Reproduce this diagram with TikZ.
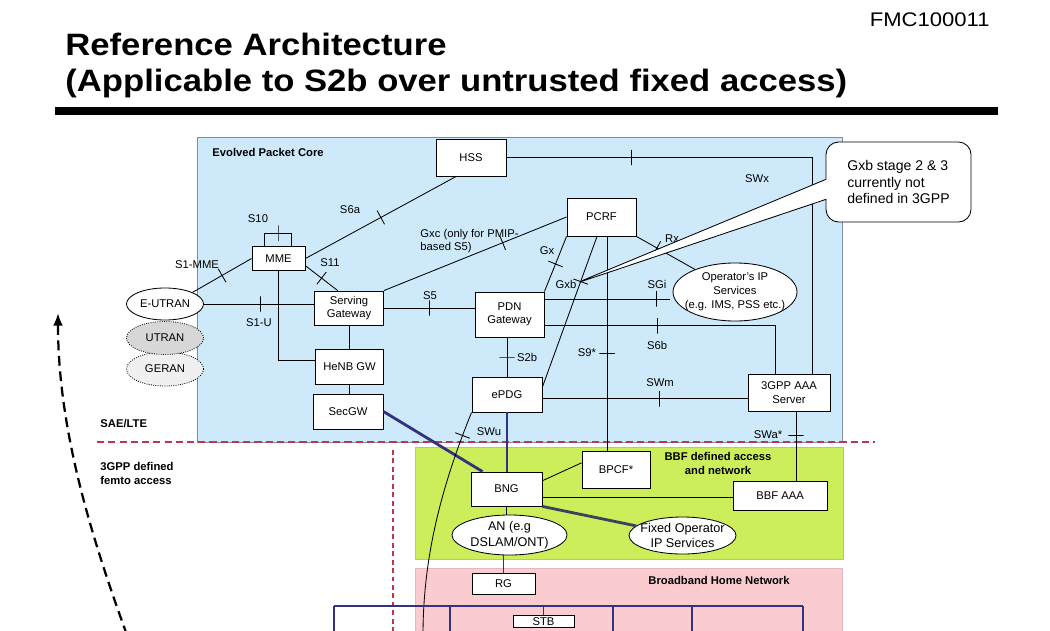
\documentclass[tikz,border=0pt]{standalone}
\usepackage{fontspec}
\setmainfont{Liberation Sans}
\newfontfamily\ttlfont[FakeStretch=1.12]{Liberation Sans}
\usetikzlibrary{shapes.geometric,shapes.callouts,arrows.meta}
\definecolor{epcblue}{RGB}{205,233,250}
\definecolor{epcedge}{RGB}{125,140,160}
\definecolor{bbfgreen}{RGB}{204,238,90}
\definecolor{bbfedge}{RGB}{175,205,110}
\definecolor{homepink}{RGB}{250,204,208}
\definecolor{homeedge}{RGB}{225,185,190}
\definecolor{lnavy}{RGB}{50,50,128}
\definecolor{fixline}{RGB}{60,65,95}
\definecolor{dashred}{RGB}{185,55,80}
\definecolor{utrangray}{RGB}{215,215,215}
\definecolor{gerangray}{RGB}{240,240,240}
\tikzset{
    BX/.style ={rectangle, draw, fill=white, inner sep=0pt, align=center, font=\fontsize{8}{9.5}\selectfont},
    OV/.style ={ellipse, draw, fill=white, inner sep=0pt, align=center, font=\fontsize{8}{10}\selectfont},
    TK/.style ={sloped, draw, inner sep=0pt, minimum width=0pt, minimum height=11pt},
    LB/.style ={inner sep=0pt, font=\fontsize{8}{9.5}\selectfont},
    HD/.style ={inner sep=0pt, align=left, font=\bfseries\fontsize{8}{9.5}\selectfont},
    NV/.style ={draw=lnavy, line width=1.4pt}}

\begin{document}
\begin{tikzpicture}[x=0.025cm,y=-0.025cm,line width=0.6pt]
        \useasboundingbox (0,0) rectangle (1050,630);
        % areas
        \draw[epcedge, fill=epcblue] (197,137) rectangle (842,442);
        \draw[bbfedge, fill=bbfgreen] (415,447) rectangle (843,559);
        \draw[homeedge, fill=homepink] (415,568) rectangle (842,645);
        \draw[dashred, line width=1pt, dash pattern=on 5pt off 3pt] (97,442) -- (875,442);
        \draw[dashred, line width=1pt, dash pattern=on 3.5pt off 2.5pt] (393,450) -- (393,635);
        % title
        \node[anchor=base west, inner sep=0pt, font=\ttlfont\bfseries\fontsize{22}{26}\selectfont] (T1) at (65,56) {Reference Architecture};
        \node[anchor=base west, inner sep=0pt, font=\ttlfont\bfseries\fontsize{22}{26}\selectfont] (T2) at (65,92) {(Applicable to S2b over untrusted fixed access)};
        \node[anchor=base east, inner sep=0pt, font=\ttlfont\fontsize{14}{16}\selectfont] (FMC) at (990,27) {FMC100011};
        \draw[line width=5pt] (55,111) -- (998,111);
        % nodes
        \node[BX, minimum width=1.75cm, minimum height=0.925cm] (HSS) at (471,157.5) {HSS};
        \node[BX, minimum width=1.325cm, minimum height=0.6cm] (MME) at (278.5,258.5) {MME};
        \node[BX, minimum width=1.725cm, minimum height=0.85cm] (SGW) at (349,308) {Serving\\Gateway};
        \node[BX, minimum width=1.7cm, minimum height=0.875cm] (HeNB) at (349.5,366.5) {HeNB GW};
        \node[BX, minimum width=1.75cm, minimum height=0.875cm] (SecGW) at (348,411.5) {SecGW};
        \node[BX, minimum width=1.725cm, minimum height=1.125cm] (PDN) at (509.5,314.5) {PDN\\Gateway};
        \node[BX, minimum width=1.725cm, minimum height=0.95cm] (PCRF) at (601.5,217) {PCRF};
        \node[BX, minimum width=1.75cm, minimum height=0.875cm] (ePDG) at (507,394.5) {ePDG};
        \node[BX, minimum width=2.05cm, minimum height=0.925cm] (AAA) at (789,392.5) {3GPP AAA\\Server};
        \node[BX, minimum width=1.7cm, minimum height=0.925cm] (BPCF) at (616,469.5) {BPCF*};
        \node[BX, minimum width=1.775cm, minimum height=0.85cm] (BNG) at (506.5,489) {BNG};
        \node[BX, minimum width=2.35cm, minimum height=0.725cm] (BBFAAA) at (780,495.5) {BBF AAA};
        \node[BX, minimum width=1.575cm, minimum height=0.525cm] (RG) at (503.5,583.5) {RG};
        \node[BX, anchor=north, inner ysep=1.5pt, minimum width=1.525cm] (STB) at (543.5,615) {STB};
        \node[OV, densely dotted, fill=gerangray, minimum width=1.925cm, minimum height=0.85cm] (GERAN) at (165,369) {GERAN};
        \node[OV, densely dotted, fill=utrangray, minimum width=1.925cm, minimum height=0.825cm] (UTRAN) at (165,338) {UTRAN};
        \node[OV, minimum width=1.925cm, minimum height=0.8cm] (EUTRAN) at (165,304) {E-UTRAN};
        \node[OV, inner xsep=-5pt, inner ysep=0.5pt, minimum width=3.1cm, minimum height=1.45cm] (OpIP) at (735,292) {Operator's IP\\Services\\(e.g. IMS, PSS etc.)};
        \node[OV, font=\fontsize{9}{11}\selectfont, minimum width=2.875cm, minimum height=1cm] (AN) at (509.5,535) {AN (e.g\\DSLAM/ONT)};
        \node[OV, font=\fontsize{9}{11}\selectfont, inner xsep=-4pt, minimum width=2.675cm, minimum height=0.925cm] (FixOp) at (682.5,535.5) {Fixed Operator\\IP Services};
        \coordinate (UE) at (423,635);
        \coordinate (BusL) at (334,606);
        \coordinate (BusR) at (803,606);
        \coordinate (D1) at (334,640);
        \coordinate (D2) at (450,640);
        \coordinate (D3) at (613,640);
        \coordinate (D4) at (692,640);
        \coordinate (D5) at (803,640);
        \coordinate (ArrS) at (127,635);
        \coordinate (ArrE) at (58,313);
        % reference points
        \draw (EUTRAN.north east) -- (MME.west) node[TK, pos=.5] (k1) {};
        \draw (MME.east) -- (HSS.-128) node[TK, pos=.5] (k2) {};
        \draw (MME.north) ++(-14,0) -- ++(0,-13) -- ++(27,0) node[TK, pos=.5] (k3) {} -- ++(0,13);
        \draw (MME.-15) -- (SGW.123) node[TK, pos=.5] (k4) {};
        \draw (EUTRAN.east) -- (EUTRAN.east -| SGW.west) node[TK, pos=.51] (k5) {};
        \draw (MME.south) |- (HeNB.170);
        \draw (SGW.south) -- (SGW.south |- HeNB.north);
        \draw (SGW.south |- HeNB.south) -- (SGW.south |- SecGW.north);
        \draw (SGW.east) -- (SGW.east -| PDN.west) node[TK, pos=.5] (k6) {};
        \draw (SGW.north east) -- (PCRF.west) node[TK, pos=.65] (k7) {};
        \draw (PCRF.south west) -- (PDN.north east) node[TK, pos=.5] (k8) {};
        \draw (PCRF.-103) -- (ePDG.12) node[TK, pos=.3] (k9) {};
        \draw ([xshift=0.14cm]PCRF.south) -- ([xshift=0.14cm]PCRF.south |- BPCF.north) node[TK, pos=.545] (k10) {};
        \draw (PCRF.south east) -- (OpIP) node[TK, pos=.35] (k11) {};
        \draw[shorten >=1.5pt] (PDN.24) -- (PDN.24 -| OpIP.west) node[TK, pos=.876] (k12) {};
        \draw (PDN.-18) -| ([xshift=-0.35cm]AAA.north) node[TK, pos=.245] (k13) {};
        \draw (HSS.east) -| ([xshift=0.575cm]AAA.north) node[TK, pos=.205] (k14) {};
        \draw (ePDG.-7) -- (ePDG.-7 -| AAA.west) node[TK, pos=.57] (k15) {};
        \draw (ePDG.north |- PDN.south) -- (ePDG.north) node[TK, pos=.5] (k16) {};
        \draw[NV] (ePDG.south) -- (ePDG.south |- BNG.north);
        \draw[NV, line width=2pt] (SecGW.east) -- (BNG.144);
        \draw (ePDG.south west) .. controls (440,490) and (423,560) .. (UE) node[TK, pos=.1] (k17) {};
        \draw (BNG.13) -- (BPCF.169);
        \draw (BNG.-13) -- (BNG.-13 -| BBFAAA.west);
        \draw ([xshift=0.175cm]AAA.south) -- ([xshift=0.175cm]AAA.south |- BBFAAA.north) node[TK, pos=.34] (k18) {};
        \draw (BNG.south) -- (BNG.south |- AN.north);
        \draw[fixline, line width=2pt] (BNG.south east) -- (FixOp);
        \draw[NV, line width=1.2pt] (RG.north |- AN.south) -- (RG.north);
        % home network
        \draw[NV] (BusL) -- (BusR);
        \draw[NV] (D1) -- (D1 |- BusL);
        \draw[NV] (D2) -- (D2 |- BusL);
        \draw[NV] (D3) -- (D3 |- BusL);
        \draw[NV] (D4) -- (D4 |- BusL);
        \draw[NV] (D5) -- (D5 |- BusL);
        \draw[NV] (STB.north) -- (STB.north |- BusL);
        \draw[line width=1.6pt, dash pattern=on 7pt off 4pt, -{Latex[length=9pt,width=7pt]}] (ArrS) .. controls (85,520) and (58,420) .. (ArrE);
        % labels
        \node[LB] (lS1MME) at (197,265) {S1-MME};
        \node[LB] (lS10) at (258,219) {S10};
        \node[LB] (lS6a) at (350,210) {S6a};
        \node[LB] (lS11) at (330,263) {S11};
        \node[LB] (lS1U) at (259,323) {S1-U};
        \node[LB] (lS5) at (430,296) {S5};
        \node[LB, anchor=west, align=left] (lGxc) at (420,241) {Gxc (only for PMIP-\\based S5)};
        \node[LB] (lGx) at (547,251) {Gx};
        \node[LB] (lGxb) at (566,284) {Gxb};
        \node[LB] (lRx) at (672,239) {Rx};
        \node[LB] (lSGi) at (657,284) {SGi};
        \node[LB] (lS6b) at (657,345) {S6b};
        \node[LB] (lSWx) at (757,179) {SWx};
        \node[LB] (lS9) at (587,353) {S9*};
        \node[LB] (lS2b) at (527,357) {S2b};
        \node[LB] (lSWm) at (660,383) {SWm};
        \node[LB] (lSWu) at (489,432) {SWu};
        \node[LB] (lSWa) at (768,435) {SWa*};
        \node[HD, anchor=west] (hEPC) at (212,152) {Evolved Packet Core};
        \node[HD, anchor=west] (hSAE) at (100,424) {SAE/LTE};
        \node[HD, anchor=west, font=\bfseries\fontsize{8}{10.5}\selectfont] (hFemto) at (100,473.5) {3GPP defined\\femto access};
        \node[HD, align=center] (hBBF) at (718,463.5) {BBF defined access\\and network};
        \node[HD] (hHome) at (719,580.5) {Broadband Home Network};
        % note
        \node[rectangle callout, draw, fill=white, rounded corners=9pt, minimum width=3.625cm, minimum height=2cm, callout absolute pointer={(574,284)}, callout pointer width=0.5cm, align=left, font=\fontsize{10}{12}\selectfont] (Note) at (898.5,182) {Gxb stage 2 \& 3\\currently not\\defined in 3GPP};
\end{tikzpicture}
\end{document}
